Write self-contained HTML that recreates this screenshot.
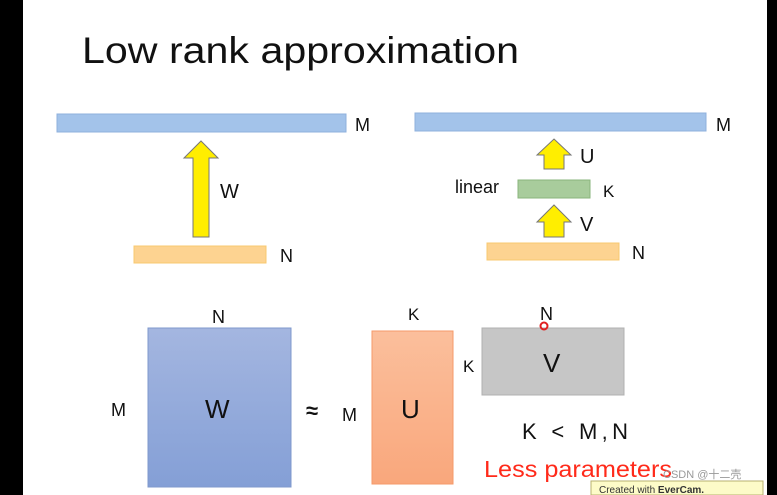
<!DOCTYPE html>
<html><head><meta charset="utf-8"><style>
body{margin:0;width:777px;height:495px;overflow:hidden;background:#000;}
svg{display:block}
text{font-family:"Liberation Sans","Noto Sans CJK SC",sans-serif;fill:#111}
</style></head><body>
<svg width="777" height="495" viewBox="0 0 777 495" xmlns="http://www.w3.org/2000/svg">
<defs>
<linearGradient id="gw" x1="0" y1="0" x2="0" y2="1"><stop offset="0" stop-color="#a4b6e0"/><stop offset="1" stop-color="#849fd6"/></linearGradient>
<linearGradient id="gu" x1="0" y1="0" x2="0" y2="1"><stop offset="0" stop-color="#fbbf9c"/><stop offset="1" stop-color="#f9a77c"/></linearGradient>
</defs>
<rect x="23" y="0" width="744" height="495" fill="#fff"/>
<text x="82" y="63" font-size="37" textLength="437" lengthAdjust="spacingAndGlyphs" style="fill:#111">Low rank approximation</text>
<!-- left -->
<rect x="57" y="114" width="289" height="18" fill="#a3c3ea" stroke="#8fb0dc"/>
<text x="355" y="131" font-size="18">M</text>
<polygon points="201,141 218,158 209,158 209,237 193,237 193,158 184,158" fill="#ffee00" stroke="#777" stroke-width="1"/>
<text x="220" y="198" font-size="20">W</text>
<rect x="134" y="246" width="132" height="17" fill="#fdd391" stroke="#f8c870"/>
<text x="280" y="262" font-size="18">N</text>
<!-- right -->
<rect x="415" y="113" width="291" height="18" fill="#a3c3ea" stroke="#8fb0dc"/>
<text x="716" y="131" font-size="18">M</text>
<polygon points="554,139 571,155 564,155 564,169 544,169 544,155 537,155" fill="#ffee00" stroke="#777"/>
<text x="580" y="163" font-size="20">U</text>
<text x="455" y="193" font-size="18">linear</text>
<rect x="518" y="180" width="72" height="18" fill="#a8cc9c" stroke="#8ab57c"/>
<text x="603" y="197" font-size="17">K</text>
<polygon points="554,205 571,222 564,222 564,237 544,237 544,222 537,222" fill="#ffee00" stroke="#777"/>
<text x="580" y="231" font-size="20">V</text>
<rect x="487" y="243" width="132" height="17" fill="#fdd391" stroke="#f8c870"/>
<text x="632" y="259" font-size="18">N</text>
<!-- bottom -->
<text x="212" y="323" font-size="18">N</text>
<rect x="148" y="328" width="143" height="159" fill="url(#gw)" stroke="#7f98cc"/>
<text x="111" y="416" font-size="18">M</text>
<text x="205" y="418" font-size="26">W</text>
<text x="306" y="418" font-size="22" font-weight="bold">≈</text>
<text x="342" y="421" font-size="18">M</text>
<text x="408" y="320" font-size="17">K</text>
<rect x="372" y="331" width="81" height="153" fill="url(#gu)" stroke="#f59a6a"/>
<text x="401" y="418" font-size="26">U</text>
<text x="540" y="320" font-size="18">N</text>
<rect x="482" y="328" width="142" height="67" fill="#c6c6c6" stroke="#b0b0b0"/>
<circle cx="544" cy="326" r="3.5" fill="none" stroke="#e02020" stroke-width="2"/>
<text x="463" y="372" font-size="17">K</text>
<text x="543" y="372" font-size="26">V</text>
<text x="522" y="439" font-size="22" textLength="106" lengthAdjust="spacing">K &lt; M,N</text>
<text x="484" y="477" font-size="23" textLength="188" lengthAdjust="spacingAndGlyphs" style="fill:#ff2a1a">Less parameters</text>
<text x="663" y="478" font-size="11" style="fill:#999">CSDN @十二壳</text>
<rect x="591" y="481" width="172" height="14" fill="#fdfbc8" stroke="#b8b070"/>
<text x="599" y="493" font-size="10" style="fill:#333">Created with <tspan font-weight="bold">EverCam.</tspan></text>
</svg>
</body></html>
